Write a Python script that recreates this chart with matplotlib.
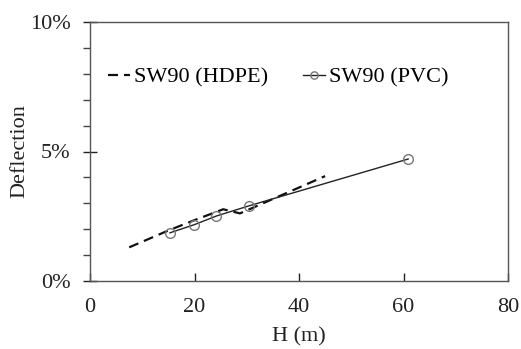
import matplotlib
matplotlib.use("Agg")
import matplotlib.pyplot as plt
from matplotlib.ticker import MultipleLocator, FuncFormatter

plt.rcParams['font.family'] = ['Liberation Serif', 'DejaVu Serif']

hdpe_h = [7.5, 15.0, 20.0, 25.5, 28.7, 45.0]
hdpe_d = [1.30, 1.95, 2.35, 2.77, 2.61, 4.05]

pvc_h = [15.3, 19.9, 24.2, 30.4, 60.9]
pvc_d = [1.86, 2.17, 2.51, 2.90, 4.71]

x_ticks = [0, 20, 40, 60, 80]
y_ticks = [0, 5, 10]

FS = 16

fig = plt.figure(figsize=(5.21, 3.49), dpi=100)
ax = fig.add_axes([90/521, 1-281/349, (508-90)/521, (281-22)/349])

ax.plot(hdpe_h, hdpe_d, color='#111111', lw=1.6, dashes=(4.5, 2.7), label='SW90 (HDPE)')
ax.plot(pvc_h, pvc_d, color='#222222', lw=1.0, marker='o', markersize=7,
        markerfacecolor='none', markeredgecolor='#777777', markeredgewidth=1.0,
        label='SW90 (PVC)')

ax.set_xlim(0, 80)
ax.set_ylim(0, 10)
ax.set_xticks(x_ticks)
ax.set_yticks(y_ticks)
ax.yaxis.set_minor_locator(MultipleLocator(1))
ax.yaxis.set_major_formatter(FuncFormatter(lambda v, p: f"{int(v)}%"))
ax.tick_params(axis='x', direction='in', length=6, width=1, labelsize=FS, colors='#222222', pad=12)
ax.tick_params(axis='y', which='major', direction='inout', length=10, width=1, labelsize=FS, colors='#222222', pad=9)
ax.tick_params(axis='y', which='minor', direction='out', length=5, width=1, colors='#444444')
for s in ax.spines.values():
    s.set_color('#555555')
    s.set_linewidth(1.0)

ax.set_xlabel('H (m)', fontsize=FS, color='#222222', labelpad=7.5)
ax.set_ylabel('Deflection', fontsize=FS, color='#222222', labelpad=0)

leg = ax.legend(loc='center left', bbox_to_anchor=(0.043, 0.787), ncol=2, frameon=False,
                fontsize=FS, handlelength=1.0, handletextpad=0.15, columnspacing=1.6,
                borderaxespad=0, borderpad=0, markerscale=0.75)

fig.savefig('out.png', dpi=100)
